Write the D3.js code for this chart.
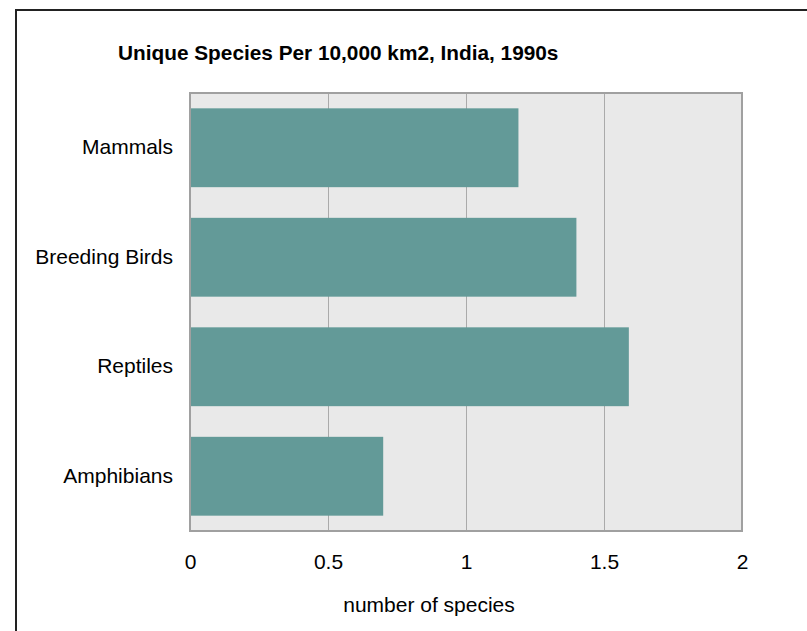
<!DOCTYPE html>
<html>
<head>
<meta charset="utf-8">
<script src="https://cdn.jsdelivr.net/npm/d3@7"></script>
<style>
  html, body { margin: 0; padding: 0; background: #fff; }
  svg { display: block; font-family: "Liberation Sans", Arial, sans-serif; }
</style>
</head>
<body>
<svg id="chart" width="807" height="631"></svg>
<script>
const categories = ["Mammals", "Breeding Birds", "Reptiles", "Amphibians"];
const values = [1.19, 1.40, 1.59, 0.70];
const xTicks = [0, 0.5, 1, 1.5, 2];
const xTickLabels = ["0", "0.5", "1", "1.5", "2"];
const chartTitle = "Unique Species Per 10,000 km2, India, 1990s";
const xAxisTitle = "number of species";

const svg = d3.select("#chart");
const plot = { left: 190, right: 742, top: 93, bottom: 531 };

// outer frame
svg.append("rect")
  .attr("x", 16).attr("y", 10).attr("width", 900).attr("height", 900)
  .attr("fill", "none").attr("stroke", "#222").attr("stroke-width", 2);

const x = d3.scaleLinear().domain([0, 2]).range([plot.left, plot.right]);
const y = d3.scaleBand().domain(categories).range([plot.top, plot.bottom])
  .paddingInner(0.28).paddingOuter(0.14);

// plot background
svg.append("rect")
  .attr("x", plot.left).attr("y", plot.top)
  .attr("width", plot.right - plot.left).attr("height", plot.bottom - plot.top)
  .attr("fill", "#e9e9e9");

// gridlines
svg.append("g").selectAll("line")
  .data(xTicks.filter(t => t > 0 && t < 2))
  .join("line")
  .attr("x1", d => Math.round(x(d)) + 0.5).attr("x2", d => Math.round(x(d)) + 0.5)
  .attr("y1", plot.top).attr("y2", plot.bottom)
  .attr("stroke", "#aaaaaa").attr("stroke-width", 1);

// bars
svg.append("g").selectAll("rect")
  .data(categories)
  .join("rect")
  .attr("x", x(0))
  .attr("y", d => y(d))
  .attr("width", (d, i) => x(values[i]) - x(0))
  .attr("height", y.bandwidth())
  .attr("fill", "#639a98");

// plot border
svg.append("rect")
  .attr("x", plot.left).attr("y", plot.top)
  .attr("width", plot.right - plot.left).attr("height", plot.bottom - plot.top)
  .attr("fill", "none").attr("stroke", "#a0a0a0").attr("stroke-width", 2);

// x axis labels
const xAxis = d3.axisBottom(x).tickValues(xTicks)
  .tickFormat((d, i) => xTickLabels[i]).tickSize(0).tickPadding(0);
const gx = svg.append("g").attr("transform", `translate(0, 569)`).call(xAxis);
gx.select(".domain").remove();
gx.selectAll("text")
  .attr("dy", 0).attr("y", 0)
  .attr("font-size", 21).attr("fill", "#000")
  .attr("font-family", "Liberation Sans, Arial, sans-serif");

// y axis labels
const yAxis = d3.axisLeft(y).tickSize(0).tickPadding(17);
const gy = svg.append("g").attr("transform", `translate(${plot.left}, 0)`).call(yAxis);
gy.select(".domain").remove();
gy.selectAll("text")
  .attr("font-size", 21).attr("fill", "#000")
  .attr("font-family", "Liberation Sans, Arial, sans-serif");

// title
svg.append("text")
  .attr("x", 118).attr("y", 60)
  .attr("font-size", 20.8).attr("font-weight", "bold").attr("fill", "#000")
  .text(chartTitle);

// x axis title
svg.append("text")
  .attr("x", 429).attr("y", 612)
  .attr("text-anchor", "middle")
  .attr("font-size", 21).attr("fill", "#000")
  .text(xAxisTitle);
</script>
</body>
</html>
